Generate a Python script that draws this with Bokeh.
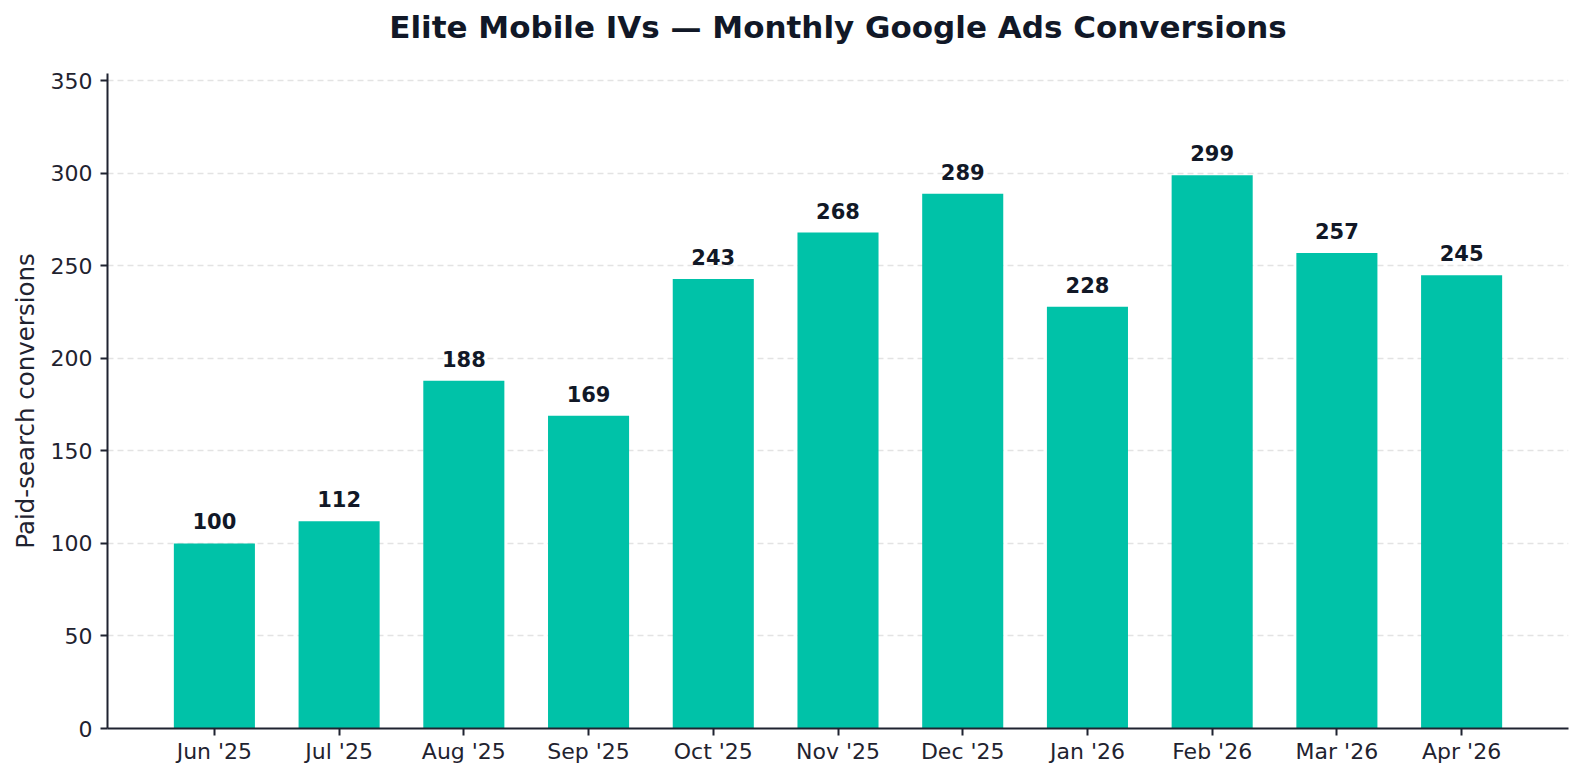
from bokeh.plotting import figure
from bokeh.models import Range1d, FixedTicker, ColumnDataSource, Title
from bokeh.embed import file_html
from bokeh.resources import INLINE
from bokeh.core.properties import value

months = ["Jun '25", "Jul '25", "Aug '25", "Sep '25", "Oct '25", "Nov '25",
          "Dec '25", "Jan '26", "Feb '26", "Mar '26", "Apr '26"]
conversions = [100, 112, 188, 169, 243, 268, 289, 228, 299, 257, 245]
y_ticks = [0, 50, 100, 150, 200, 250, 300, 350]
title_text = "Elite Mobile IVs \u2014 Monthly Google Ads Conversions"

FONT = "DejaVu Sans"
DARK = "#111827"
BAR = "#00C2A8"

xs = list(range(len(months)))
src = ColumnDataSource(dict(x=xs, y=conversions, label=[str(v) for v in conversions]))

p = figure(width=1575, height=766, output_backend="svg", toolbar_location=None,
           x_range=Range1d(-0.857, len(months) - 1 + 0.857), y_range=Range1d(0, 354),
           min_border_left=107, min_border_right=7, min_border_top=73, min_border_bottom=30)
p.outline_line_color = None
p.background_fill_color = "white"

# spacer between frame and title (nearest the frame)
p.add_layout(Title(text=" ", text_font_size="1px", standoff=21), "above")
p.title = Title(text=title_text, align="center", vertical_align="bottom",
                text_font=FONT, text_font_size="31px", text_font_style="bold",
                text_color=DARK, standoff=10, offset=-7)

p.vbar(x="x", top="y", width=0.65, source=src, fill_color=BAR, line_color=None)
p.text(x="x", y="y", text="label", source=src, text_align="center",
       text_baseline="bottom", y_offset=-14, text_font=value(FONT),
       text_font_size="21px", text_font_style="bold", text_color=DARK)

p.xaxis.ticker = FixedTicker(ticks=xs)
p.xaxis.major_label_overrides = {i: m for i, m in enumerate(months)}
p.yaxis.ticker = FixedTicker(ticks=y_ticks)

for ax in (p.xaxis, p.yaxis):
    ax.axis_line_color = "#1f2330"
    ax.axis_line_width = 2
    ax.major_tick_line_color = "#1f2330"
    ax.major_tick_line_width = 2
    ax.major_tick_out = 7
    ax.major_tick_in = 0
    ax.minor_tick_line_color = None
    ax.major_label_text_font = FONT
    ax.major_label_text_font_size = "22px"
    ax.major_label_text_color = "#1f2330"
    ax.major_label_standoff = 8
p.xaxis.major_label_standoff = 3

p.yaxis.axis_label = "Paid-search conversions"
p.yaxis.axis_label_text_font = FONT
p.yaxis.axis_label_text_font_size = "24.5px"
p.yaxis.axis_label_text_font_style = "normal"
p.yaxis.axis_label_text_color = "#1f2330"
p.yaxis.axis_label_standoff = 8

p.xgrid.grid_line_color = None
p.ygrid.grid_line_color = "#e3e3e3"
p.ygrid.grid_line_dash = "6 4"
p.ygrid.grid_line_width = 1.5

open("out.html", "w").write(file_html(p, INLINE))
